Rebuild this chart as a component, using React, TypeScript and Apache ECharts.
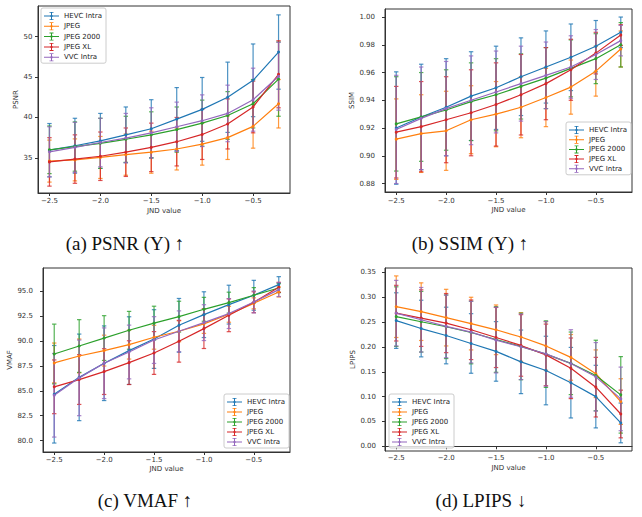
import React, { useEffect, useRef } from 'react';
import * as echarts from 'echarts';

const methods = ['HEVC Intra', 'JPEG', 'JPEG 2000', 'JPEG XL', 'VVC Intra'];
const colors = ['#1f77b4', '#ff7f0e', '#2ca02c', '#d62728', '#9467bd'];
const jndValues = [-2.5, -2.25, -2.0, -1.75, -1.5, -1.25, -1.0, -0.75, -0.5, -0.25];
const xTicks = [-2.5, -2.0, -1.5, -1.0, -0.5];

const psnrTicks = [35, 40, 45, 50];
const ssimTicks = [0.88, 0.9, 0.92, 0.94, 0.96, 0.98, 1.0];
const vmafTicks = [80, 82.5, 85, 87.5, 90, 92.5, 95];
const lpipsTicks = [0, 0.05, 0.1, 0.15, 0.2, 0.25, 0.3, 0.35];

// rows: HEVC Intra, JPEG, JPEG 2000, JPEG XL, VVC Intra
const psnrMean = [
  [35.95, 36.5, 37.1, 37.85, 38.6, 39.8, 41.0, 42.5, 44.6, 48.1],
  [34.6, 34.75, 35.05, 35.4, 35.7, 36.1, 36.7, 37.5, 38.9, 41.7],
  [36.0, 36.4, 36.8, 37.3, 37.85, 38.5, 39.3, 40.25, 41.7, 44.75],
  [34.5, 34.85, 35.2, 35.7, 36.3, 37.0, 37.9, 39.2, 41.3, 45.35],
  [35.75, 36.3, 36.9, 37.45, 38.1, 38.85, 39.6, 40.5, 42.2, 45.1],
];
const psnrStd = [
  [3.3, 3.4, 3.4, 3.45, 3.6, 3.9, 3.95, 4.35, 4.5, 4.6],
  [2.6, 2.6, 2.6, 2.55, 2.6, 2.6, 2.6, 2.7, 2.7, 3.0],
  [2.95, 3.05, 3.1, 2.85, 2.85, 2.8, 2.85, 2.95, 3.0, 4.6],
  [3.0, 3.0, 3.0, 3.0, 3.0, 3.0, 3.1, 3.1, 3.2, 4.15],
  [3.1, 3.1, 3.0, 3.05, 3.1, 3.05, 3.2, 3.5, 3.9, 4.2],
];

const ssimMean = [
  [0.92, 0.928, 0.935, 0.943, 0.949, 0.957, 0.964, 0.971, 0.979, 0.989],
  [0.912, 0.916, 0.918, 0.926, 0.93, 0.935, 0.942, 0.9495, 0.961, 0.977],
  [0.923, 0.928, 0.933, 0.939, 0.944, 0.95, 0.956, 0.963, 0.97, 0.98],
  [0.917, 0.921, 0.926, 0.931, 0.937, 0.944, 0.952, 0.962, 0.974, 0.987],
  [0.919, 0.927, 0.934, 0.94, 0.946, 0.952, 0.958, 0.964, 0.973, 0.983],
];
const ssimStd = [
  [0.0405, 0.038, 0.035, 0.032, 0.03, 0.028, 0.026, 0.024, 0.0185, 0.011],
  [0.029, 0.028, 0.0285, 0.0245, 0.0235, 0.022, 0.021, 0.0195, 0.018, 0.013],
  [0.034, 0.032, 0.029, 0.028, 0.026, 0.0235, 0.022, 0.0205, 0.018, 0.016],
  [0.033, 0.0325, 0.031, 0.031, 0.03, 0.029, 0.026, 0.022, 0.015, 0.0075],
  [0.039, 0.037, 0.034, 0.032, 0.0295, 0.027, 0.024, 0.0225, 0.018, 0.011],
];

const vmafMean = [
  [84.65, 86.35, 87.77, 89.04, 90.2, 91.58, 92.65, 93.66, 94.6, 95.67],
  [87.8, 88.5, 89.04, 89.64, 90.38, 90.98, 91.72, 92.69, 93.79, 94.93],
  [88.7, 89.5, 90.3, 91.08, 91.8, 92.45, 93.19, 93.86, 94.6, 95.33],
  [85.4, 86.13, 86.93, 87.83, 88.8, 89.98, 91.25, 92.59, 93.9, 95.4],
  [84.55, 86.3, 87.77, 88.9, 90.1, 90.98, 91.85, 92.76, 93.93, 95.17],
];
const vmafStd = [
  [4.9, 4.35, 3.75, 3.4, 2.95, 2.7, 2.3, 1.95, 1.5, 0.8],
  [2.0, 1.7, 1.55, 1.45, 1.2, 1.05, 0.95, 0.8, 0.55, 0.5],
  [3.0, 2.65, 2.25, 1.9, 1.7, 1.55, 1.2, 1.05, 0.77, 0.45],
  [2.7, 2.5, 2.3, 2.2, 2.15, 2.1, 2.0, 1.65, 1.05, 0.5],
  [4.2, 3.8, 3.55, 2.7, 2.35, 2.05, 1.8, 1.5, 1.1, 0.7],
];

const lpipsMean = [
  [0.253, 0.237, 0.223, 0.207, 0.191, 0.17, 0.1525, 0.128, 0.1, 0.047],
  [0.281, 0.271, 0.259, 0.247, 0.2345, 0.22, 0.202, 0.179, 0.146, 0.09],
  [0.261, 0.2507, 0.2406, 0.229, 0.215, 0.201, 0.1855, 0.167, 0.1425, 0.1035],
  [0.268, 0.258, 0.248, 0.2345, 0.219, 0.203, 0.184, 0.157, 0.119, 0.065],
  [0.268, 0.2547, 0.2413, 0.2298, 0.2137, 0.2003, 0.186, 0.1667, 0.1398, 0.0954],
];
const lpipsStd = [
  [0.056, 0.057, 0.057, 0.06, 0.06, 0.064, 0.069, 0.071, 0.063, 0.04],
  [0.062, 0.058, 0.057, 0.053, 0.05, 0.049, 0.049, 0.046, 0.048, 0.046],
  [0.06, 0.061, 0.064, 0.063, 0.066, 0.067, 0.067, 0.063, 0.071, 0.077],
  [0.056, 0.057, 0.0595, 0.06, 0.0605, 0.062, 0.062, 0.061, 0.06, 0.048],
  [0.066, 0.065, 0.063, 0.062, 0.066, 0.066, 0.065, 0.068, 0.069, 0.064],
];

const FONT = 'DejaVu Sans';
const X_MIN = -2.6125;
const X_MAX = -0.1375;

const panels = [
  {
    grid: { left: 38, top: 6, width: 252, height: 187 },
    yRange: [30.65, 53.8], yTicks: psnrTicks, dec: 0, name: 'PSNR',
    mean: psnrMean, std: psnrStd,
    yNameGap: 17.5, yLabelMargin: 5.5, xLabelMargin: 4.5, xNameGap: 14,
    legend: { left: 41, top: 8, itemGap: 2.3 },
    caption: '(a) PSNR (Y) ↑', cap: [125, 243],
  },
  {
    grid: { left: 385, top: 9, width: 247, height: 183 },
    yRange: [0.8739, 1.0058], yTicks: ssimTicks, dec: 2, name: 'SSIM',
    mean: ssimMean, std: ssimStd,
    yNameGap: 23, yLabelMargin: 10, xLabelMargin: 5.5, xNameGap: 14,
    legend: { left: 566, top: 122, itemGap: 1.7 },
    caption: '(b) SSIM (Y) ↑', cap: [470, 243],
  },
  {
    grid: { left: 43, top: 268, width: 247, height: 184 },
    yRange: [78.85, 97.34], yTicks: vmafTicks, dec: 1, name: 'VMAF',
    mean: vmafMean, std: vmafStd,
    yNameGap: 23, yLabelMargin: 10, xLabelMargin: 4.8, xNameGap: 13,
    legend: { left: 224, top: 394, itemGap: 2 },
    caption: '(c) VMAF ↑', cap: [145, 500],
  },
  {
    grid: { left: 385, top: 268, width: 247, height: 183 },
    yRange: [-0.0095, 0.3589], yTicks: lpipsTicks, dec: 2, name: 'LPIPS',
    mean: lpipsMean, std: lpipsStd,
    yNameGap: 23, yLabelMargin: 9, xLabelMargin: 3, xNameGap: 13.5,
    legend: { left: 389, top: 394, itemGap: 2 },
    caption: '(d) LPIPS ↓', cap: [481, 500],
  },
];

const ERR_ICON =
  'path://M0 7H30V9H0Z M14 0H16V16H14Z M11 0H19V1.6H11Z M11 14.4H19V16H11Z M13 6H17V10H13Z';

const fmt = (dec: number) => (v: number) => {
  const s = Math.abs(v).toFixed(dec);
  return v < -1e-9 ? '\u2212' + s : s;
};

function buildOption() {
  const series: any[] = [];
  panels.forEach((p, k) => {
    methods.forEach((m, j) => {
      const color = colors[j];
      series.push({
        type: 'custom',
        name: m + ' err',
        xAxisIndex: k,
        yAxisIndex: k,
        z: 2,
        encode: { x: 0, y: 1 },
        data: jndValues.map((x, i) => [x, p.mean[j][i], p.std[j][i]]),
        renderItem: (params: any, api: any) => {
          const x = api.value(0);
          const mu = api.value(1);
          const sd = api.value(2);
          const top = api.coord([x, mu + sd]);
          const bot = api.coord([x, mu - sd]);
          const cw = 2.2;
          const style = { stroke: color, lineWidth: 1.2, opacity: 0.8 };
          return {
            type: 'group',
            children: [
              { type: 'line', shape: { x1: top[0], y1: top[1], x2: bot[0], y2: bot[1] }, style },
              { type: 'line', shape: { x1: top[0] - cw, y1: top[1], x2: top[0] + cw, y2: top[1] }, style },
              { type: 'line', shape: { x1: bot[0] - cw, y1: bot[1], x2: bot[0] + cw, y2: bot[1] }, style },
            ],
          };
        },
      });
      series.push({
        type: 'line',
        name: m,
        xAxisIndex: k,
        yAxisIndex: k,
        z: 3,
        data: jndValues.map((x, i) => [x, p.mean[j][i]]),
        symbol: 'circle',
        symbolSize: 3,
        showSymbol: true,
        itemStyle: { color },
        lineStyle: { color, width: 1.2 },
      });
    });
  });

  return {
    animation: false,
    backgroundColor: '#ffffff',
    grid: panels.map((p) => ({
      ...p.grid,
      show: true,
      borderColor: '#333333',
      borderWidth: 1,
      backgroundColor: 'transparent',
    })),
    xAxis: panels.map((p, k) => ({
      type: 'value',
      gridIndex: k,
      min: X_MIN,
      max: X_MAX,
      axisLine: { show: true, lineStyle: { color: '#333333', width: 1 } },
      splitLine: { show: false },
      axisTick: { show: true, length: 3, lineStyle: { color: '#333333', width: 1 }, customValues: xTicks },
      axisLabel: {
        customValues: xTicks,
        formatter: fmt(1),
        fontSize: 7,
        fontFamily: FONT,
        color: '#333333',
        margin: p.xLabelMargin,
      },
      name: 'JND value',
      nameLocation: 'middle',
      nameGap: p.xNameGap,
      nameTextStyle: { fontSize: 7, fontFamily: FONT, color: '#333333' },
    })),
    yAxis: panels.map((p, k) => ({
      type: 'value',
      gridIndex: k,
      min: p.yRange[0],
      max: p.yRange[1],
      axisLine: { show: true, lineStyle: { color: '#333333', width: 1 } },
      splitLine: { show: false },
      axisTick: { show: true, length: 3, lineStyle: { color: '#333333', width: 1 }, customValues: p.yTicks },
      axisLabel: {
        customValues: p.yTicks,
        formatter: fmt(p.dec),
        fontSize: 7,
        fontFamily: FONT,
        color: '#333333',
        margin: p.yLabelMargin,
      },
      name: p.name,
      nameLocation: 'middle',
      nameGap: p.yNameGap,
      nameTextStyle: { fontSize: 7, fontFamily: FONT, color: '#333333' },
    })),
    legend: panels.map((p) => ({
      data: methods,
      orient: 'vertical',
      left: p.legend.left,
      top: p.legend.top,
      itemWidth: 15,
      itemHeight: 8,
      itemGap: p.legend.itemGap,
      padding: [4, 4, 2, 3],
      icon: ERR_ICON,
      backgroundColor: 'rgba(255,255,255,0.8)',
      borderColor: '#cccccc',
      borderWidth: 1,
      borderRadius: 2,
      selectedMode: false,
      itemStyle: { borderWidth: 0 },
      textStyle: { fontSize: 7, fontFamily: FONT, color: '#222222', lineHeight: 8 },
    })),
    graphic: panels.map((p) => ({
      type: 'text',
      x: p.cap[0],
      y: p.cap[1],
      style: {
        text: p.caption,
        font: '19px "Liberation Serif", "DejaVu Serif", serif',
        fill: '#111111',
        align: 'center',
        verticalAlign: 'middle',
        textAlign: 'center',
        textVerticalAlign: 'middle',
      },
    })),
    series,
  };
}

export default function App() {
  const ref = useRef<HTMLDivElement | null>(null);
  useEffect(() => {
    if (!ref.current) return;
    const chart = echarts.init(ref.current, null, { renderer: 'svg' });
    chart.setOption(buildOption() as any);
    return () => chart.dispose();
  }, []);
  return (
    <div
      ref={ref}
      style={{ position: 'fixed', left: 0, top: 0, width: 642, height: 517, background: '#ffffff' }}
    />
  );
}
